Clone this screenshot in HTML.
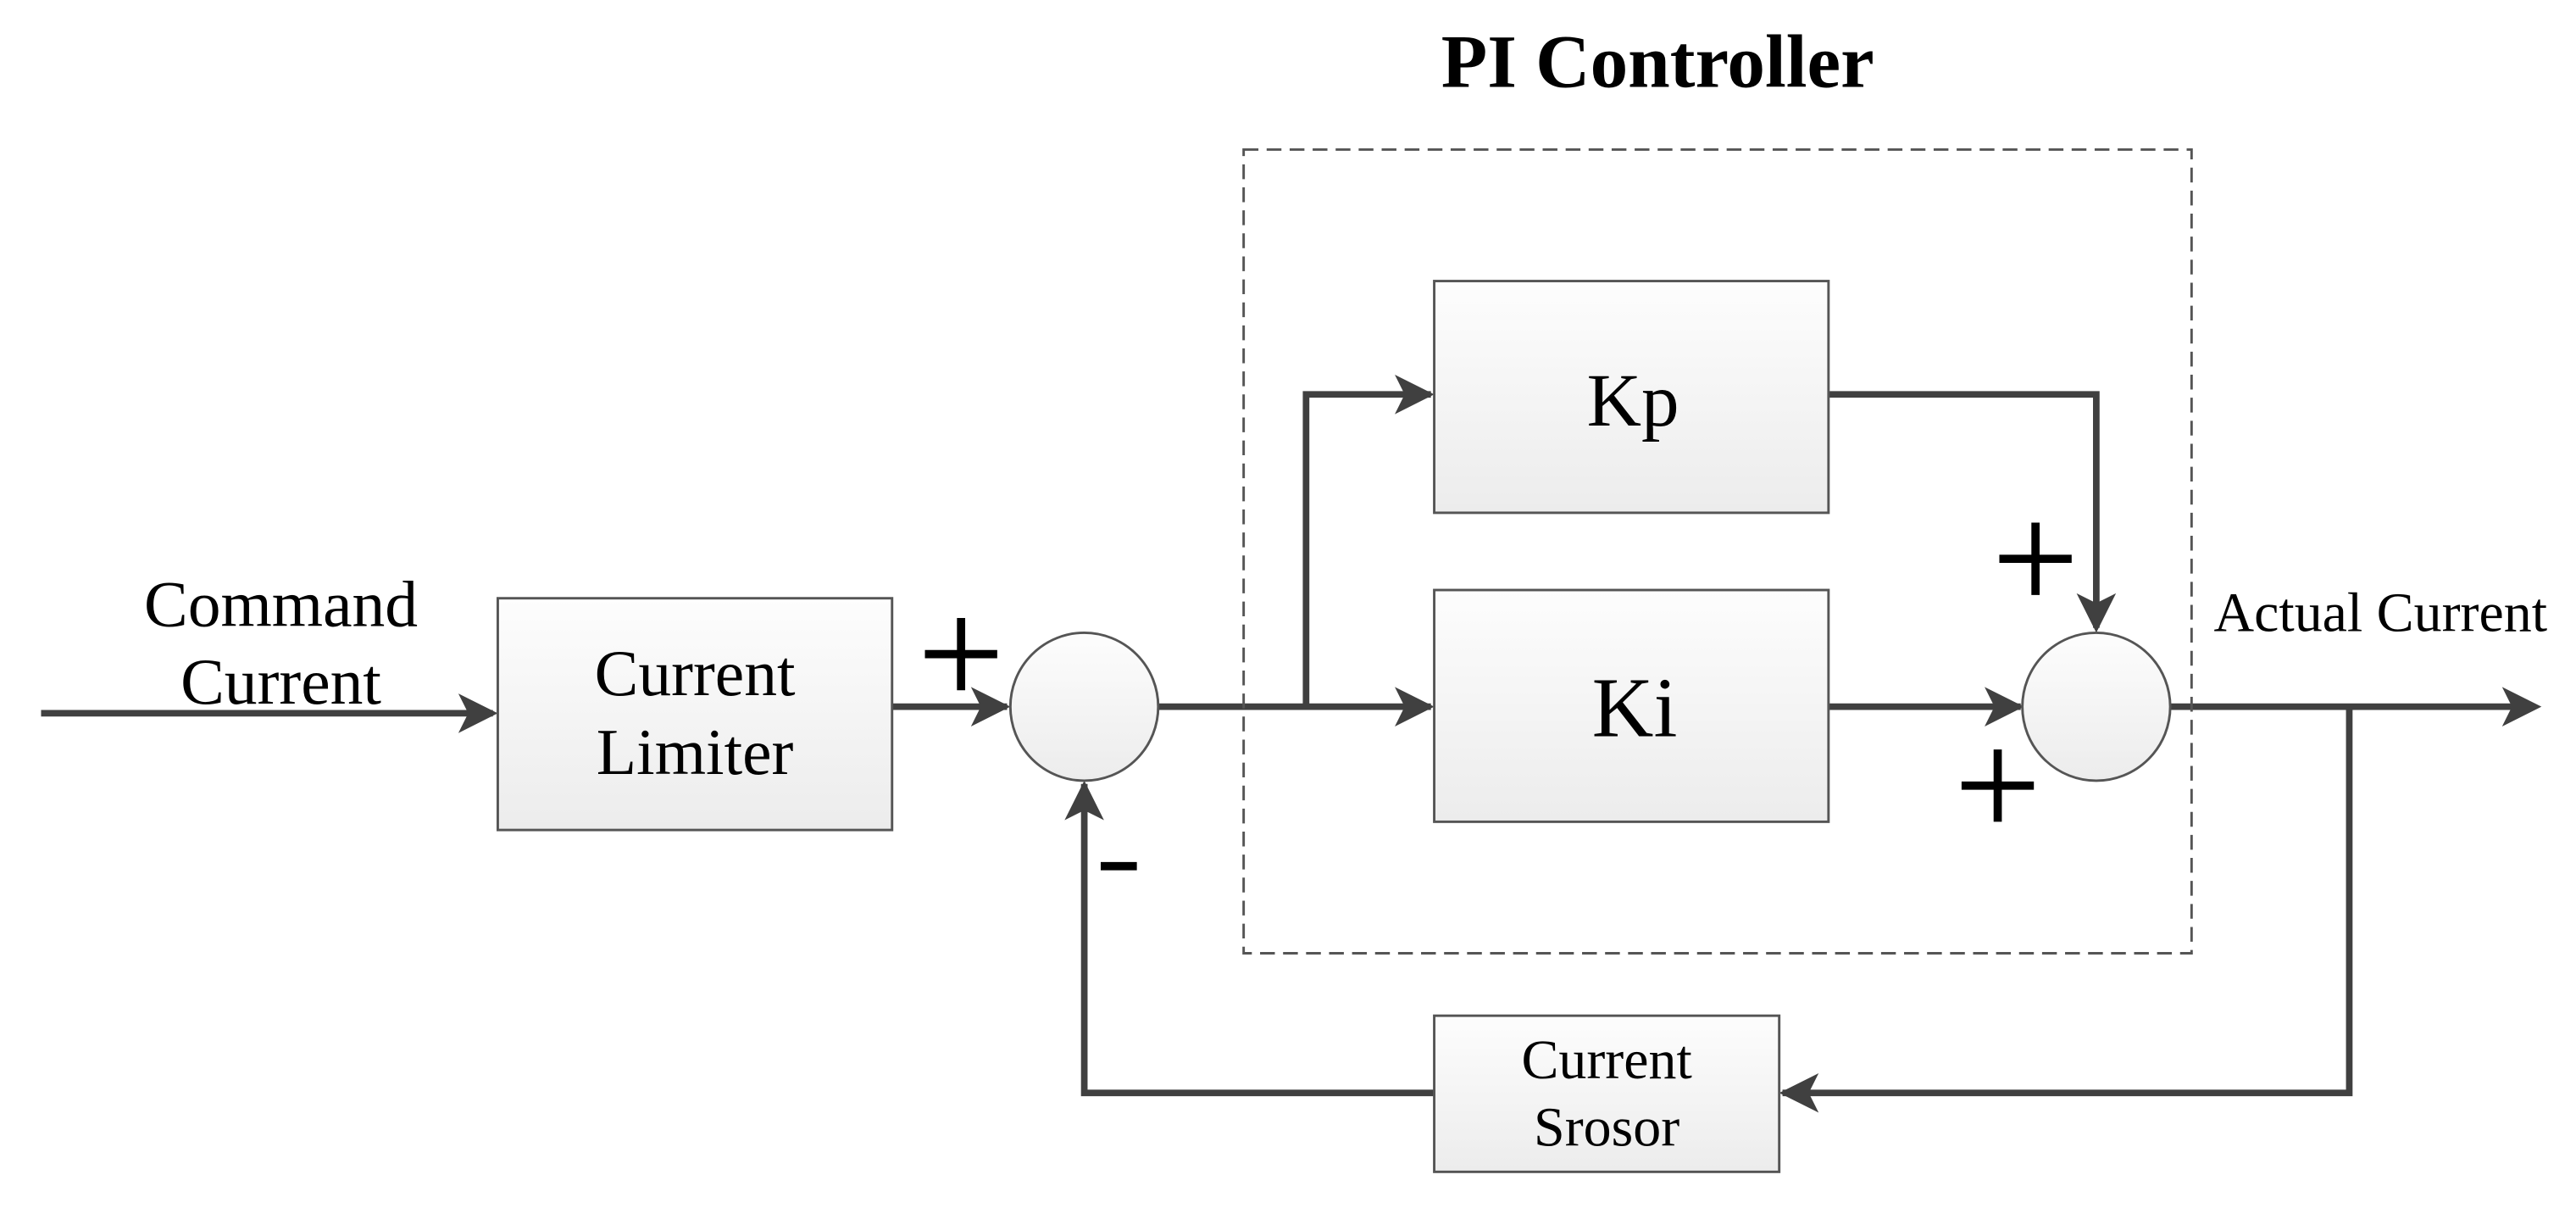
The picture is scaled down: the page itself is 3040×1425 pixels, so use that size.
<!DOCTYPE html>
<html><head><meta charset="utf-8"><style>html,body{margin:0;padding:0;background:#fff}svg{display:block}</style></head>
<body>
<svg width="3040" height="1425" viewBox="0 0 1568 735" preserveAspectRatio="none" xmlns="http://www.w3.org/2000/svg" font-family="Liberation Serif, serif">
<defs>
<linearGradient id="g" x1="0" y1="0" x2="0" y2="1"><stop offset="0" stop-color="#fdfdfd"/><stop offset="1" stop-color="#ececec"/></linearGradient>
</defs>
<rect width="1568" height="735" fill="#fff"/>
<g stroke="#404040" stroke-width="4" fill="none" stroke-linejoin="miter">
<line x1="25" y1="434" x2="300" y2="434"/>
<line x1="543" y1="430" x2="613" y2="430"/>
<polyline points="705,430 871,430"/>
<polyline points="795,430 795,240 871,240"/>
<polyline points="1113,240 1276,240 1276,382"/>
<line x1="1113" y1="430" x2="1230" y2="430"/>
<line x1="1321" y1="430" x2="1543" y2="430"/>
<polyline points="1430,430 1430,665 1085,665"/>
<polyline points="873,665 660,665 660,477"/>
</g>
<g fill="#404040">
<path d="M303,434 l-24,-12 l6,12 l-6,12z"/>
<path d="M615,430 l-24,-12 l6,12 l-6,12z"/>
<path d="M873,430 l-24,-12 l6,12 l-6,12z"/>
<path d="M873,240 l-24,-12 l6,12 l-6,12z"/>
<path d="M1232,430 l-24,-12 l6,12 l-6,12z"/>
<path d="M1276,385 l-12,-24 l12,6 l12,-6z"/>
<path d="M1547,430 l-24,-12 l6,12 l-6,12z"/>
<path d="M1083,665 l24,-12 l-6,12 l6,12z"/>
<path d="M660,475 l-12,24 l12,-6 l12,6z"/>
</g>
<rect x="757" y="91" width="577" height="489" fill="none" stroke="#555" stroke-width="1.5" stroke-dasharray="9,5"/>
<g fill="url(#g)" stroke="#555" stroke-width="1.5">
<rect x="303" y="364" width="240" height="141"/>
<rect x="873" y="171" width="240" height="141"/>
<rect x="873" y="359" width="240" height="141"/>
<rect x="873" y="618" width="210" height="95"/>
<circle cx="660" cy="430" r="45"/>
<circle cx="1276" cy="430" r="45"/>
</g>
<g fill="#000" text-anchor="middle">
<text x="1009" y="53" font-size="46" font-weight="bold">PI Controller</text>
<text x="171" y="381" font-size="40">Command</text>
<text x="171" y="428" font-size="40">Current</text>
<text x="423" y="423" font-size="40">Current</text>
<text x="423" y="471" font-size="40">Limiter</text>
<text x="994" y="259" font-size="46">Kp</text>
<text x="995" y="448" font-size="52">Ki</text>
<text x="978" y="656" font-size="34">Current</text>
<text x="978" y="697" font-size="34">Srosor</text>
<text x="1449" y="384" font-size="34">Actual Current</text>
</g>
<g stroke="#000" stroke-width="5">
<line x1="563" y1="398" x2="607" y2="398"/><line x1="585" y1="376" x2="585" y2="420"/>
<line x1="1217" y1="340" x2="1261" y2="340"/><line x1="1239" y1="318" x2="1239" y2="362"/>
<line x1="1194" y1="478" x2="1238" y2="478"/><line x1="1216" y1="456" x2="1216" y2="500"/>
<line x1="670" y1="527" x2="692" y2="527"/>
</g>
</svg>
</body></html>
